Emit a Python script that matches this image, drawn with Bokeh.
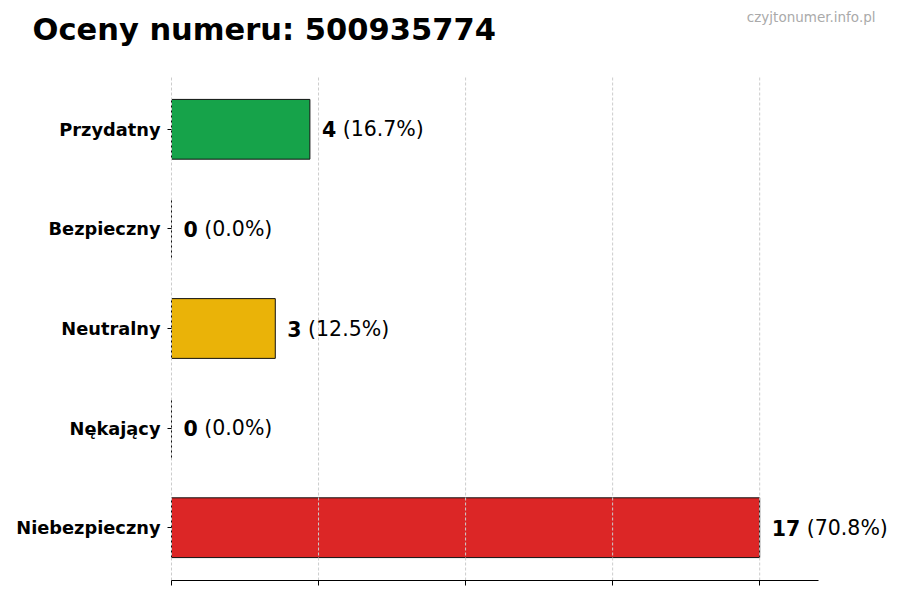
from bokeh.plotting import figure
from bokeh.models import (ColumnDataSource, LabelSet, Label, FixedTicker, Range1d, LinearAxis)
from bokeh.core.properties import value
from bokeh.embed import file_html
from bokeh.resources import INLINE
import numpy as np

# ---- data ----
title_text = "Oceny numeru: 500935774"
watermark = "czyjtonumer.info.pl"
categories = ["Przydatny", "Bezpieczny", "Neutralny", "Nękający", "Niebezpieczny"]
counts = [4, 0, 3, 0, 17]
percents = [16.7, 0.0, 12.5, 0.0, 70.8]
colors = ["#16a34a", "#9ca3af", "#eab308", "#f97316", "#dc2626"]

n = len(categories)
ypos = [n - 1 - i for i in range(n)]  # top to bottom
vmax = max(counts)

# ---- layout constants (pixels) ----
W, H = 890, 590
AX_L, AX_R, AX_T, AX_B = 171, 818, 76, 580   # plot-area box
pad = 0.53
xmax = vmax * 1.1
sx = (AX_R - AX_L) / xmax
ylo, yhi = -pad, n - 1 + pad
sy = (AX_B - AX_T) / (yhi - ylo)

FONT = "DejaVu Sans"
VAL_FS = 20.5
num_w = [len(str(c)) * 0.696 * VAL_FS for c in counts]

src = ColumnDataSource(dict(
    y=ypos,
    right=counts,
    left=[0] * n,
    color=colors,
    num=[str(c) for c in counts],
    pct=["(%.1f%%)" % p for p in percents],
    pct_off=[12 + w + 0.318 * VAL_FS for w in num_w],
))

p = figure(
    width=W, height=H,
    min_border=0, min_border_left=0, min_border_right=0, min_border_top=0, min_border_bottom=0,
    x_range=Range1d(-AX_L / sx, (W - AX_L) / sx),
    y_range=Range1d(ylo - (H - AX_B) / sy, yhi + AX_T / sy),
    x_axis_location=None, y_axis_location=None,
    output_backend="svg", toolbar_location=None, title=None,
)
p.outline_line_color = None
p.background_fill_color = "white"
p.border_fill_color = "white"
p.xgrid.visible = False
p.ygrid.visible = False

p.hbar(y="y", left="left", right="right", height=0.6, fill_color="color",
       line_color="#111111", line_width=1, source=src)

# vertical dashed grid (drawn over the bars, as in the reference)
ticks = [float(t) for t in np.linspace(0, vmax, 5)]
p.segment(x0=ticks, y0=[ylo] * len(ticks), x1=ticks, y1=[yhi] * len(ticks),
          line_color="#cccccc", line_dash="3 2", line_width=1)

# x axis (bottom spine with ticks, no labels)
xa = LinearAxis(fixed_location=ylo, bounds=(0, xmax), ticker=FixedTicker(ticks=ticks))
xa.major_label_overrides = {t: "" for t in ticks}
xa.major_label_standoff = 0
xa.minor_tick_line_color = None
xa.major_tick_in = 0
xa.major_tick_out = 5
xa.axis_line_color = "black"
xa.major_tick_line_color = "black"
p.add_layout(xa, "below")

# y axis (category labels, no spine)
ya = LinearAxis(fixed_location=0, ticker=FixedTicker(ticks=ypos))
ya.major_label_overrides = {y: c for y, c in zip(ypos, categories)}
ya.axis_line_color = None
ya.minor_tick_line_color = None
ya.major_tick_in = 0
ya.major_tick_out = 4
ya.major_label_standoff = 7
ya.major_label_text_font = FONT
ya.major_label_text_font_style = "bold"
ya.major_label_text_font_size = "17.8px"
ya.major_label_text_color = "black"
ya.major_tick_line_color = "black"
p.add_layout(ya, "left")

# value labels
p.add_layout(LabelSet(x="right", y="y", text="num", source=src, x_offset=12,
                      text_font=value(FONT), text_font_style="bold",
                      text_font_size=f"{VAL_FS}px", text_baseline="middle",
                      text_color="black"))
p.add_layout(LabelSet(x="right", y="y", text="pct", source=src, x_offset="pct_off",
                      text_font=value(FONT), text_font_size=f"{VAL_FS}px",
                      text_baseline="middle", text_color="black"))

# title and watermark
p.add_layout(Label(x=32, y=H - 29, x_units="screen", y_units="screen",
                   text=title_text, text_font=FONT, text_font_style="bold",
                   text_font_size="30.5px", text_baseline="alphabetic",
                   text_color="black"))
p.add_layout(Label(x=875, y=H - 16, x_units="screen", y_units="screen",
                   text=watermark, text_font=FONT, text_font_size="13.5px",
                   text_align="right", text_baseline="alphabetic",
                   text_color="#aaaaaa"))

open("out.html", "w").write(file_html(p, INLINE))
